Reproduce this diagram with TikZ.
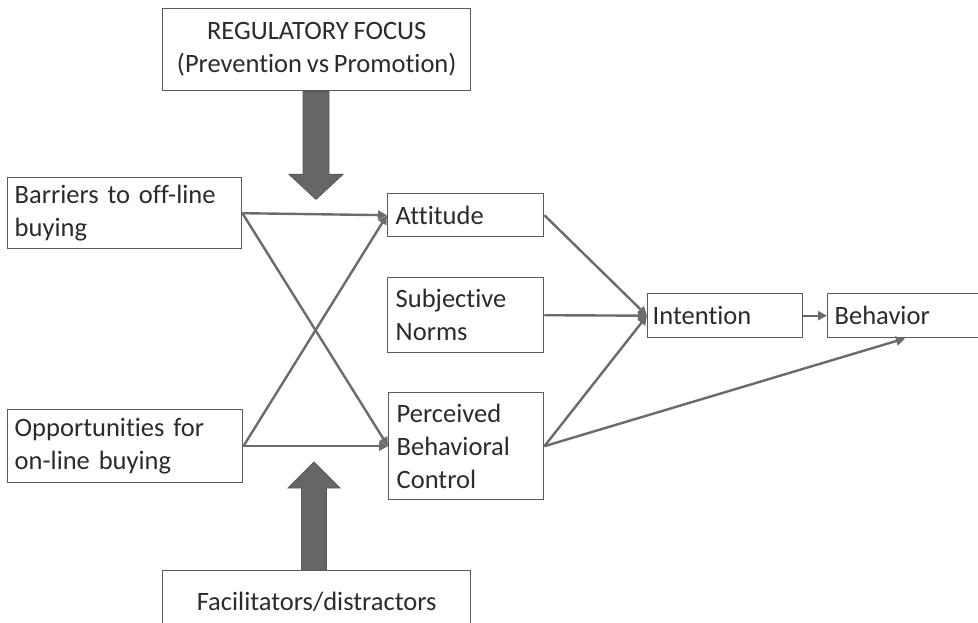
\documentclass[tikz,border=0pt]{standalone}
\usepackage{fontspec}
\setmainfont[Ligatures=NoCommon,WordSpace=0.8]{Carlito}
\usetikzlibrary{arrows.meta,calc}
\definecolor{boxgray}{HTML}{5A5A5A}
\definecolor{arrgray}{HTML}{6B6B6B}
\definecolor{txtgray}{HTML}{2B2B2B}
\definecolor{bigfill}{HTML}{666666}
\tikzset{
  box/.style={draw=boxgray, line width=1.4pt, fill=white, anchor=north west,
    inner ysep=0pt, text=txtgray, font=\fontsize{26.5}{33}\selectfont},
  lbox/.style={box, align=left},
  cbox/.style={box, align=center},
  conn/.style={draw=arrgray, line width=2.4pt,
    -{Triangle[length=9pt,width=9pt]}},
  bigarrow/.style={fill=bigfill, draw=boxgray, line width=0.8pt}
}
\begin{document}
\begin{tikzpicture}[x=1pt,y=-1pt]
\clip (0,0) rectangle (978,623);
\fill[white] (0,0) rectangle (978,623);
% boxes
\node[cbox, minimum width=308pt, minimum height=82pt, inner xsep=4pt] (reg) at (162,8)
  {REGULATORY FOCUS\\(Prevention vs Promotion)};
\node[lbox, minimum width=234pt, minimum height=71pt, inner xsep=7pt, text width=220pt] (bar) at (7,177)
  {Barriers to off-line\\buying};
\node[lbox, minimum width=235pt, minimum height=73pt, inner xsep=7pt, text width=221pt] (opp) at (7,409)
  {Opportunities for\\on-line buying};
\node[lbox, minimum width=156pt, minimum height=43pt, inner xsep=8pt, text width=140pt] (att) at (387,193)
  {Attitude};
\node[lbox, minimum width=156pt, minimum height=75pt, inner xsep=8pt, text width=140pt] (sn) at (387,277)
  {Subjective\\Norms};
\node[lbox, minimum width=155pt, minimum height=107pt, inner xsep=8pt, text width=139pt] (pbc) at (388,392)
  {Perceived\\Behavioral\\Control};
\node[lbox, minimum width=155pt, minimum height=44pt, inner xsep=5pt, text width=145pt] (int) at (647,293)
  {Intention};
\node[lbox, minimum width=175pt, minimum height=44pt, inner xsep=7pt, text width=161pt] (beh) at (827,293)
  {Behavior};
\node[cbox, minimum width=308pt, minimum height=62pt, inner xsep=4pt] (fac) at (162,570)
  {Facilitators/distractors};
% big arrows
\coordinate (dtop) at ($(reg.south west)+(154,0)$);
\coordinate (utop) at ($(fac.north west)+(152,0)$);
\draw[bigarrow] ($(dtop)+(-13,0)$) -- ($(dtop)+(13,0)$) -- ($(dtop)+(13,83)$) -- ($(dtop)+(27,83)$)
  -- ($(dtop)+(0,108)$) -- ($(dtop)+(-27,83)$) -- ($(dtop)+(-13,83)$) -- cycle;
\draw[bigarrow] ($(utop)+(-12.5,0)$) -- ($(utop)+(12.5,0)$) -- ($(utop)+(12.5,-82)$) -- ($(utop)+(26,-82)$)
  -- ($(utop)+(0,-108)$) -- ($(utop)+(-26,-82)$) -- ($(utop)+(-12.5,-82)$) -- cycle;
% connectors
\draw[conn] (bar.east) -- (att.west);
\draw[conn] (bar.east) -- (pbc.west);
\draw[conn] (opp.east) -- (att.west);
\draw[conn] (opp.east) -- (pbc.west);
\draw[conn] (att.east) -- (int.west);
\draw[conn] (sn.east) -- (int.west);
\draw[conn] (pbc.east) -- (int.west);
\draw[conn] (int.east) -- (beh.west);
\draw[conn] (pbc.east) -- ([xshift=78pt]beh.south west);
\end{tikzpicture}
\end{document}
